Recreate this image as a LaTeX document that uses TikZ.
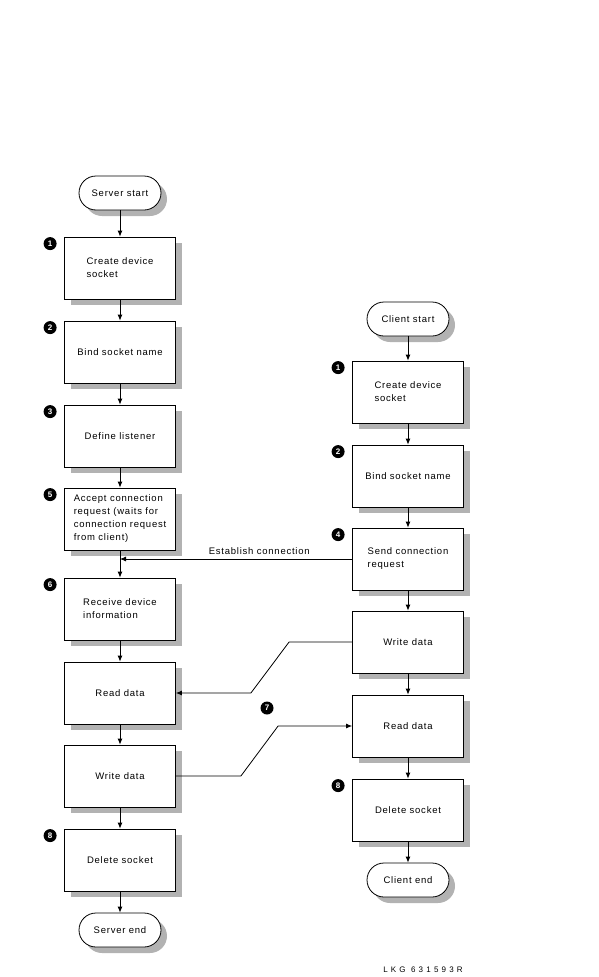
\documentclass[tikz,border=0pt]{standalone}
\usepackage{fontspec}
\setmainfont[LetterSpace=8]{Liberation Sans}
\usetikzlibrary{arrows.meta,shadows}

\begin{document}
\begin{tikzpicture}[x=1pt,y=-1pt,line width=0.8pt,
    font=\fontsize{9.5}{13}\selectfont,
    shade/.style={drop shadow={shadow xshift=6pt,shadow yshift=-6pt,fill=black!30,opacity=1}},
    proc/.style={draw,fill=white,shade,minimum width=111pt,minimum height=62pt,align=left},
    term/.style={draw,fill=white,shade,rounded corners=17pt,minimum width=82pt,minimum height=34pt},
    num/.style={circle,fill=black,text=white,inner sep=0pt,minimum size=13pt,font=\bfseries\fontsize{8}{8}\selectfont},
    arr/.style={-{Latex[length=6pt,width=5pt]}}]
    \useasboundingbox (0,0) rectangle (599,977);

    % server side
    \node[term] (ss) at (120,193) {Server start};
    \node[proc] (s1) at (120,268) {Create device\\socket};
    \node[proc] (s2) at (120,352) {Bind socket name};
    \node[proc] (s3) at (120,436) {Define listener};
    \node[proc] (s5) at (120,519) {Accept connection\\request (waits for\\connection request\\from client)};
    \node[proc] (s6) at (120,609) {Receive device\\information};
    \node[proc] (sr) at (120,693) {Read data};
    \node[proc] (sw) at (120,776) {Write data};
    \node[proc] (sd) at (120,860) {Delete socket};
    \node[term] (se) at (120,930) {Server end};

    % client side
    \node[term] (cs) at (408,319) {Client start};
    \node[proc] (c1) at (408,392) {Create device\\socket};
    \node[proc] (c2) at (408,476) {Bind socket name};
    \node[proc] (c4) at (408,559) {Send connection\\request};
    \node[proc] (cw) at (408,642) {Write data};
    \node[proc] (cr) at (408,726) {Read data};
    \node[proc] (cd) at (408,810) {Delete socket};
    \node[term] (ce) at (408,880) {Client end};

    % step numbers
    \foreach \stp/\n in {s1/1,s2/2,s3/3,s5/5,s6/6,sd/8,c1/1,c2/2,c4/4,cd/8}
        \node[num] (n\stp) at ([shift={(-14,7)}]\stp.north west) {\n};
    \node[num] (n7) at (267,708) {7};

    % flow
    \foreach \a/\b in {ss/s1,s1/s2,s2/s3,s3/s5,s5/s6,s6/sr,sr/sw,sw/sd,sd/se,
                       cs/c1,c1/c2,c2/c4,c4/cw,cw/cr,cr/cd,cd/ce}
        \draw[arr] (\a) -- (\b);

    \draw[arr] (c4.west) -- node[pos=0.4,above=1pt] {Establish connection} (c4.west -| s5.south);
    \draw[arr] (cw.west) -- ++(-63,0) -- ([xshift=75pt]sr.east) -- (sr.east);
    \draw[arr] (sw.east) -- ++(65,0) -- ([xshift=-74pt]cr.west) -- (cr.west);

    \node[font=\fontsize{8}{8}\selectfont\addfontfeature{LetterSpace=40}] (fig) at (423,970) {LKG 631593R};
\end{tikzpicture}
\end{document}
